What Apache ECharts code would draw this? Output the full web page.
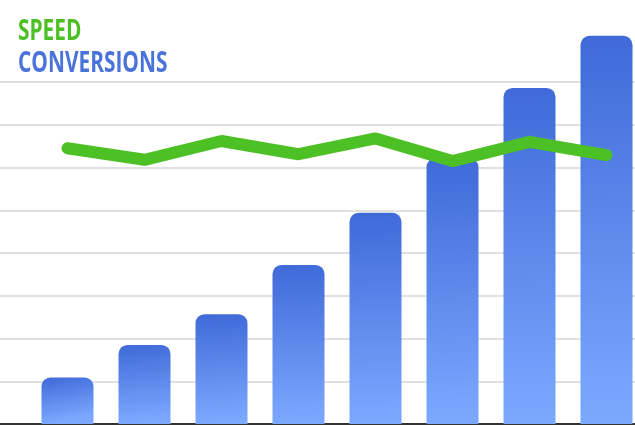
<!DOCTYPE html>
<html>
<head>
<meta charset="utf-8">
<script src="https://cdn.jsdelivr.net/npm/echarts@6/dist/echarts.min.js"></script>
<style>
html,body{margin:0;padding:0;background:#fff;}
#chart{width:635px;height:425px;}
</style>
</head>
<body>
<div id="chart"></div>
<script>
// Data
var categories = ['1', '2', '3', '4', '5', '6', '7', '8'];
var conversions = [10.9, 18.5, 25.7, 37.2, 49.4, 62.2, 78.6, 90.8];
var speed = [64.5, 61.8, 66.2, 63.1, 66.8, 61.5, 66.0, 62.9];
var titleLines = ['SPEED', 'CONVERSIONS'];
var yMin = 0, yMax = 80, yInterval = 10;

var chart = echarts.init(document.getElementById('chart'), null, {renderer: 'canvas'});
var option = {
  animation: false,
  backgroundColor: '#ffffff',
  graphic: [
    {type: 'text', x: 18, y: 32, scaleX: 0.72, z: 100,
     style: {text: titleLines[0], x: 0, y: 0, font: 'bold 29px "Open Sans"', fill: '#4cbf24', textVerticalAlign: 'middle'}},
    {type: 'text', x: 18, y: 64, scaleX: 0.72, z: 100,
     style: {text: titleLines[1], x: 0, y: 0, font: 'bold 29px "Open Sans"', fill: '#4a72db', textVerticalAlign: 'middle'}}
  ],
  grid: [
    {left: 0, right: 0, top: 82, bottom: 1, show: false, outerBoundsMode: 'none'},
    {left: 29, width: 616, top: 82, bottom: 1, show: false, outerBoundsMode: 'none'}
  ],
  xAxis: [
    {gridIndex: 0, type: 'value', min: 0, max: 1,
     axisLine: {show: true, lineStyle: {color: '#333333', width: 2}},
     axisTick: {show: false}, axisLabel: {show: false}, splitLine: {show: false}},
    {gridIndex: 1, type: 'category', data: categories,
     axisLine: {show: false}, axisTick: {show: false}, axisLabel: {show: false}, splitLine: {show: false}}
  ],
  yAxis: [
    {gridIndex: 0, type: 'value', min: yMin, max: yMax, interval: yInterval,
     axisLine: {show: false}, axisTick: {show: false}, axisLabel: {show: false},
     splitLine: {show: true, lineStyle: {color: '#e0e0e0', width: 2}}},
    {gridIndex: 1, type: 'value', min: yMin, max: yMax, interval: yInterval,
     axisLine: {show: false}, axisTick: {show: false}, axisLabel: {show: false},
     splitLine: {show: false}}
  ],
  series: [
    {
      name: 'CONVERSIONS', type: 'bar', xAxisIndex: 1, yAxisIndex: 1,
      data: conversions, barWidth: 52, clip: false, z: 2,
      itemStyle: {
        borderRadius: [9, 9, 0, 0],
        color: new echarts.graphic.LinearGradient(0, 0, 0.15, 1, [
          {offset: 0, color: '#3f6ad8'},
          {offset: 1, color: '#7ca9ff'}
        ])
      }
    },
    {
      name: 'SPEED', type: 'line', xAxisIndex: 1, yAxisIndex: 1,
      data: speed, symbol: 'none', clip: false, z: 5,
      lineStyle: {color: '#4cc024', width: 12, cap: 'round', join: 'round'}
    }
  ]
};
chart.setOption(option);
</script>
</body>
</html>
